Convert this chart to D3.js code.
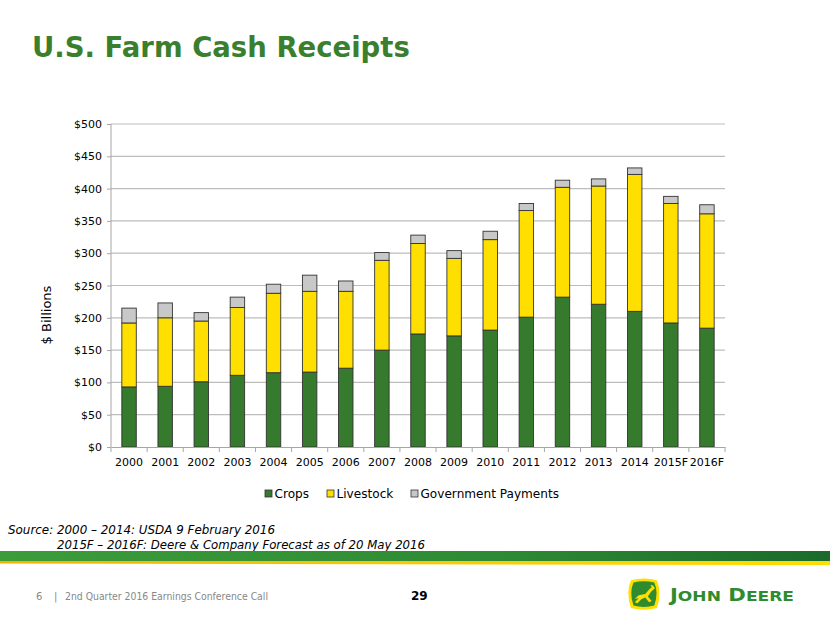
<!DOCTYPE html>
<html><head><meta charset="utf-8">
<script src="https://cdn.jsdelivr.net/npm/d3@7/dist/d3.min.js"></script>
<style>
body{margin:0;background:#fff;}
svg{display:block;}
text{font-family:"DejaVu Sans",Verdana,sans-serif;}
</style></head>
<body>
<svg id="c" width="830" height="623"></svg>
<script>
const categories = ["2000","2001","2002","2003","2004","2005","2006","2007","2008","2009","2010","2011","2012","2013","2014","2015F","2016F"];
const crops      = [93, 94, 101, 111, 115, 116, 122, 150, 175, 172, 181, 201, 232, 221, 210, 192, 184];
const livestock  = [99, 106, 94, 105, 123, 125, 119, 139, 140, 120, 140, 165, 170, 183, 212, 185, 177];
const government = [23, 23, 13, 16, 14, 25, 16, 12, 13, 12, 13, 11, 11, 11, 10, 11, 14];
const seriesNames = ["Crops","Livestock","Government Payments"];
const seriesColors = ["#357A2D","#FFDF00","#C8C8C8"];
const yTicks = [0,50,100,150,200,250,300,350,400,450,500];

const svg = d3.select("#c");

// Title
svg.append("text").attr("x",32).attr("y",57).attr("fill","#3A7F2E")
  .attr("font-size",27.5).attr("font-weight","bold").text("U.S. Farm Cash Receipts");

const x = d3.scaleBand().domain(categories).range([111,725]).paddingInner(0.6).paddingOuter(0.3);
const y = d3.scaleLinear().domain([0,500]).range([447,124]);

// grid
svg.append("g").selectAll("line").data(yTicks.slice(1)).join("line")
  .attr("x1",111).attr("x2",725).attr("y1",d=>y(d)).attr("y2",d=>y(d))
  .attr("stroke","#BDBDBD").attr("stroke-width",1.2);

// stacked data
const rows = categories.map((c,i)=>({cat:c, Crops:crops[i], Livestock:livestock[i], "Government Payments":government[i]}));
const stack = d3.stack().keys(seriesNames)(rows);

svg.append("g").selectAll("g").data(stack).join("g")
  .attr("fill",(d,i)=>seriesColors[i])
  .selectAll("rect").data(d=>d).join("rect")
  .attr("x",d=>x(d.data.cat)).attr("width",x.bandwidth())
  .attr("y",d=>y(d[1])).attr("height",d=>y(d[0])-y(d[1]))
  .attr("stroke","#333").attr("stroke-width",0.9);

// y axis
const ya = svg.append("g").attr("transform","translate(111,0)")
  .call(d3.axisLeft(y).tickValues(yTicks).tickSize(4).tickPadding(5).tickFormat(d=>"$"+d));
ya.select(".domain").attr("stroke","#A6A6A6").attr("d","M0,124V447");
ya.selectAll(".tick line").attr("stroke","#A6A6A6");
ya.selectAll("text").attr("font-size",11).attr("fill","#000").attr("font-family","DejaVu Sans, Verdana, sans-serif");

// x axis
const xa = svg.append("g").attr("transform","translate(0,447)")
  .call(d3.axisBottom(x).tickSize(0).tickPadding(11));
xa.select(".domain").attr("stroke","#A6A6A6");
xa.selectAll("text").attr("font-size",11).attr("fill","#000").attr("font-family","DejaVu Sans, Verdana, sans-serif");
svg.append("g").selectAll("line").data(d3.range(categories.length+1)).join("line")
  .attr("x1",i=>111+i*x.step()).attr("x2",i=>111+i*x.step())
  .attr("y1",447).attr("y2",452).attr("stroke","#A6A6A6");

// y label
svg.append("text").attr("transform","translate(51,315) rotate(-90)")
  .attr("text-anchor","middle").attr("font-size",13).text("$ Billions");

// legend
const legendX = [265, 327, 411];
const lg = svg.append("g").selectAll("g").data(seriesNames).join("g")
  .attr("transform",(d,i)=>`translate(${legendX[i]},0)`);
lg.append("rect").attr("x",0).attr("y",490).attr("width",7).attr("height",7)
  .attr("fill",(d,i)=>seriesColors[i]).attr("stroke","#333").attr("stroke-width",0.8);
lg.append("text").attr("x",9.5).attr("y",498).attr("font-size",12.1).text(d=>d);

// source
svg.append("text").attr("x",8).attr("y",534).attr("font-size",11.9).attr("font-style","italic")
  .attr("textLength",267).attr("lengthAdjust","spacingAndGlyphs")
  .text("Source: 2000 \u2013 2014: USDA 9 February 2016");
svg.append("text").attr("x",57).attr("y",549).attr("font-size",11.9).attr("font-style","italic")
  .attr("textLength",368).attr("lengthAdjust","spacingAndGlyphs")
  .text("2015F \u2013 2016F: Deere & Company Forecast as of 20 May 2016");

// stripes
const defs = svg.append("defs");
const gg = defs.append("linearGradient").attr("id","gg");
gg.append("stop").attr("offset","0%").attr("stop-color","#3C9C3A");
gg.append("stop").attr("offset","60%").attr("stop-color","#2E8A34");
gg.append("stop").attr("offset","100%").attr("stop-color","#1B6A2A");
const yg = defs.append("linearGradient").attr("id","yg");
yg.append("stop").attr("offset","0%").attr("stop-color","#F2B400");
yg.append("stop").attr("offset","100%").attr("stop-color","#FFDE00");
svg.append("rect").attr("x",0).attr("y",551).attr("width",830).attr("height",10).attr("fill","url(#gg)");
svg.append("path").attr("d","M0,561 L830,561 L830,565 L0,563.5 Z").attr("fill","url(#yg)");

// footer
const ff = "Liberation Sans, Arial, sans-serif";
svg.append("text").attr("x",36).attr("y",600).attr("font-size",10).attr("fill","#888").attr("font-family",ff).text("6");
svg.append("text").attr("x",54).attr("y",600).attr("font-size",10).attr("fill","#888").attr("font-family",ff).text("|");
svg.append("text").attr("x",65).attr("y",600).attr("font-size",10).attr("fill","#888").attr("font-family",ff)
  .attr("textLength",203).attr("lengthAdjust","spacingAndGlyphs").text("2nd Quarter 2016 Earnings Conference Call");
svg.append("text").attr("x",411).attr("y",600).attr("font-size",12).attr("font-weight","bold")
  .attr("font-family",ff).text("29");

// logo
const logo = svg.append("g").attr("transform","translate(627,578) scale(1.3,1.15)");
logo.append("path").attr("d","M3,2 Q13,-1 23,2 Q27,13 23,26 Q13,29 3,26 Q-1,13 3,2 Z")
  .attr("fill","#FFDE00");
logo.append("path").attr("d","M5,4 Q13,1.5 21,4 Q24.5,13 21,24 Q13,26.5 5,24 Q1.5,13 5,4 Z")
  .attr("fill","#2E8B2E");
logo.append("path").attr("d","M6,18 L9,15 L14,14 L17,10 L19,8 L18,6 L20,6.5 L21.5,9 L18.5,12 L16,16 L19,20 L17,21 L14,17 L11,18.5 L8,22 L6,21 L9,17.5 Z")
  .attr("fill","#FFDE00");
svg.append("text").attr("x",670).attr("y",601).attr("font-size",18).attr("font-weight","bold")
  .attr("fill","#2E8B2E").attr("font-family",ff)
  .attr("textLength",124).attr("lengthAdjust","spacingAndGlyphs")
  .html('J<tspan font-size="14.5">OHN</tspan> D<tspan font-size="14.5">EERE</tspan>');
</script>
</body></html>
